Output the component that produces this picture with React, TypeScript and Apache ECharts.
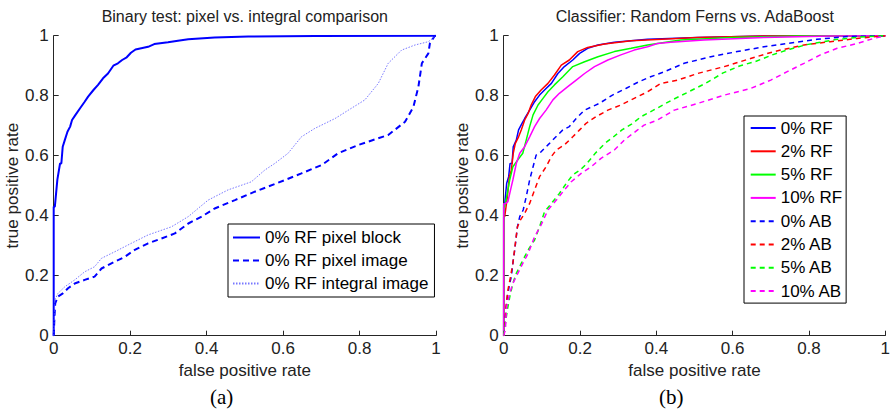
import React, { useEffect, useRef } from "react";
import * as echarts from "echarts";

const titles = ["Binary test: pixel vs. integral comparison", "Classifier: Random Ferns vs. AdaBoost"];
const captions = ["(a)", "(b)"];
const xName = "false positive rate";
const yName = "true positive rate";

// Left panel (a)
const pixelBlock = [[0,0],[0,0.43],[0.003,0.43],[0.0096,0.52],[0.0166,0.574],[0.02,0.574],[0.0236,0.63],[0.029,0.652],[0.036,0.68],[0.043,0.697],[0.048,0.719],[0.057,0.736],[0.069,0.758],[0.081,0.78],[0.09,0.797],[0.104,0.819],[0.116,0.836],[0.129,0.858],[0.142,0.874],[0.156,0.9],[0.168,0.908],[0.179,0.919],[0.191,0.928],[0.202,0.943],[0.214,0.954],[0.247,0.963],[0.263,0.972],[0.299,0.978],[0.325,0.983],[0.352,0.988],[0.421,0.994],[0.509,0.997],[0.683,0.999],[1,1]];
const pixelImage = [[0,0],[0.002,0.06],[0.004,0.108],[0.011,0.13],[0.024,0.141],[0.0375,0.158],[0.055,0.174],[0.081,0.186],[0.107,0.197],[0.125,0.224],[0.151,0.241],[0.186,0.263],[0.212,0.286],[0.247,0.308],[0.282,0.324],[0.317,0.341],[0.352,0.374],[0.387,0.397],[0.421,0.424],[0.474,0.452],[0.526,0.48],[0.561,0.497],[0.605,0.519],[0.648,0.541],[0.701,0.569],[0.744,0.608],[0.797,0.636],[0.875,0.669],[0.919,0.713],[0.941,0.763],[0.954,0.83],[0.963,0.908],[0.98,0.941],[0.984,0.974],[0.997,1],[1,1]];
const integralImage = [[0,0],[0.003,0.119],[0.011,0.141],[0.029,0.163],[0.055,0.186],[0.081,0.213],[0.107,0.23],[0.125,0.258],[0.16,0.28],[0.203,0.308],[0.247,0.336],[0.308,0.363],[0.352,0.397],[0.404,0.452],[0.456,0.486],[0.517,0.513],[0.552,0.552],[0.578,0.574],[0.613,0.608],[0.648,0.663],[0.683,0.691],[0.736,0.724],[0.771,0.752],[0.814,0.786],[0.849,0.841],[0.875,0.908],[0.91,0.952],[0.945,0.969],[0.98,0.98],[1,1]];
const leftNames = ["0% RF pixel block", "0% RF pixel image", "0% RF integral image"];

// Right panel (b)
const rf0 = [[0,0],[0,0.44],[0.0026,0.44],[0.0078,0.508],[0.013,0.53],[0.0166,0.574],[0.0218,0.574],[0.025,0.63],[0.033,0.652],[0.039,0.686],[0.048,0.708],[0.055,0.724],[0.068,0.752],[0.081,0.78],[0.094,0.802],[0.107,0.819],[0.125,0.841],[0.142,0.874],[0.159,0.897],[0.181,0.919],[0.199,0.941],[0.22,0.958],[0.247,0.969],[0.29,0.978],[0.377,0.988],[0.508,0.994],[0.682,0.999],[1,1]];
const rf2 = [[0,0],[0,0.397],[0.0026,0.397],[0.0096,0.463],[0.0148,0.53],[0.02,0.552],[0.025,0.608],[0.0305,0.641],[0.039,0.663],[0.046,0.686],[0.055,0.719],[0.064,0.741],[0.072,0.769],[0.083,0.797],[0.098,0.819],[0.116,0.841],[0.133,0.869],[0.151,0.902],[0.172,0.919],[0.194,0.947],[0.22,0.961],[0.264,0.972],[0.334,0.983],[0.508,0.994],[0.682,0.999],[1,1]];
const rf5 = [[0,0],[0,0.43],[0.0026,0.43],[0.0078,0.463],[0.0157,0.519],[0.024,0.563],[0.037,0.586],[0.05,0.608],[0.059,0.652],[0.068,0.697],[0.077,0.736],[0.09,0.769],[0.103,0.791],[0.116,0.813],[0.133,0.836],[0.155,0.863],[0.181,0.897],[0.212,0.913],[0.247,0.93],[0.29,0.947],[0.334,0.958],[0.377,0.969],[0.464,0.986],[0.595,0.994],[0.769,0.999],[1,1]];
const rf10 = [[0,0],[0,0.44],[0.0044,0.44],[0.011,0.447],[0.018,0.486],[0.024,0.519],[0.033,0.574],[0.042,0.608],[0.055,0.63],[0.068,0.663],[0.081,0.697],[0.094,0.724],[0.111,0.752],[0.129,0.786],[0.146,0.808],[0.168,0.83],[0.19,0.852],[0.212,0.874],[0.238,0.897],[0.273,0.919],[0.307,0.936],[0.342,0.952],[0.377,0.963],[0.403,0.974],[0.438,0.978],[0.525,0.986],[0.682,0.994],[0.856,0.999],[1,1]];
const ab0 = [[0,0],[0.0026,0.03],[0.0044,0.063],[0.0096,0.13],[0.0157,0.174],[0.02,0.197],[0.024,0.241],[0.029,0.286],[0.033,0.33],[0.036,0.363],[0.042,0.397],[0.051,0.419],[0.059,0.463],[0.068,0.519],[0.077,0.563],[0.085,0.602],[0.098,0.613],[0.116,0.636],[0.133,0.658],[0.155,0.686],[0.172,0.697],[0.19,0.724],[0.212,0.752],[0.25,0.774],[0.285,0.802],[0.32,0.824],[0.355,0.847],[0.385,0.863],[0.421,0.88],[0.473,0.908],[0.543,0.93],[0.612,0.947],[0.682,0.963],[0.743,0.974],[0.821,0.988],[0.9,0.997],[1,1]];
const ab2 = [[0,0],[0.0026,0.019],[0.006,0.097],[0.011,0.152],[0.018,0.197],[0.024,0.241],[0.0305,0.308],[0.036,0.363],[0.044,0.386],[0.055,0.408],[0.068,0.441],[0.081,0.486],[0.094,0.53],[0.111,0.563],[0.125,0.597],[0.138,0.619],[0.159,0.636],[0.181,0.663],[0.199,0.686],[0.216,0.708],[0.242,0.73],[0.273,0.752],[0.307,0.769],[0.342,0.791],[0.377,0.813],[0.412,0.841],[0.456,0.852],[0.508,0.874],[0.578,0.897],[0.647,0.924],[0.708,0.947],[0.787,0.969],[0.856,0.98],[0.926,0.991],[1,1]];
const ab5 = [[0,0],[0.0044,0.041],[0.0096,0.086],[0.016,0.13],[0.024,0.174],[0.033,0.208],[0.046,0.241],[0.064,0.286],[0.081,0.319],[0.094,0.363],[0.107,0.413],[0.125,0.441],[0.146,0.474],[0.164,0.508],[0.181,0.536],[0.2,0.552],[0.218,0.574],[0.24,0.608],[0.265,0.641],[0.285,0.66],[0.31,0.686],[0.335,0.705],[0.36,0.73],[0.39,0.75],[0.44,0.785],[0.48,0.81],[0.53,0.842],[0.575,0.876],[0.62,0.9],[0.66,0.914],[0.706,0.937],[0.75,0.955],[0.793,0.97],[0.87,0.987],[0.93,0.995],[1,1]];
const ab10 = [[0,0],[0.0044,0.02],[0.0078,0.097],[0.0157,0.141],[0.024,0.174],[0.037,0.208],[0.05,0.241],[0.064,0.274],[0.081,0.33],[0.098,0.369],[0.116,0.419],[0.138,0.452],[0.159,0.486],[0.177,0.513],[0.203,0.541],[0.229,0.563],[0.255,0.591],[0.29,0.619],[0.316,0.652],[0.351,0.686],[0.368,0.702],[0.403,0.719],[0.447,0.752],[0.508,0.774],[0.578,0.802],[0.647,0.824],[0.7,0.852],[0.743,0.88],[0.787,0.908],[0.83,0.936],[0.874,0.958],[0.926,0.974],[0.97,0.991],[1,1]];
const rightNames = ["0% RF", "2% RF", "5% RF", "10% RF", "0% AB", "2% AB", "5% AB", "10% AB"];
const rightColors = ["#0000ff", "#ff0000", "#00ff00", "#ff00ff", "#0000ff", "#ff0000", "#00ff00", "#ff00ff"];
const rightData = [rf0, rf2, rf5, rf10, ab0, ab2, ab5, ab10];

const FONT = "'Liberation Sans', Arial, Helvetica, sans-serif";
const AXIS_COLOR = "#262626";

function axisBase(gridIndex: number, name: string, isX: boolean) {
  return {
    type: "value",
    gridIndex,
    min: 0,
    max: 1,
    interval: 0.2,
    name,
    nameLocation: "middle",
    nameGap: isX ? 16 : 28,
    nameTextStyle: { fontFamily: FONT, fontSize: 17, color: "#222" },
    axisLine: { show: true, lineStyle: { color: AXIS_COLOR, width: 1 } },
    axisTick: { show: true, inside: true, length: 5, lineStyle: { color: AXIS_COLOR } },
    axisLabel: {
      fontFamily: FONT,
      fontSize: 17,
      color: "#222",
      margin: isX ? 4 : 5,
      formatter: (v: number) => String(+v.toFixed(1)),
    },
    splitLine: { show: false },
  };
}

export default function App() {
  const ref = useRef<HTMLDivElement>(null);
  useEffect(() => {
    if (!ref.current) return;
    const chart = echarts.init(ref.current, undefined, { renderer: "svg" });
    const gL = { left: 53.7, top: 35.7, width: 382.3, height: 300 };
    const gR = { left: 503.7, top: 35.7, width: 382.3, height: 300 };
    const leftSeries = [
      { name: leftNames[0], data: pixelBlock, lineStyle: { color: "#0000ff", width: 2, type: "solid" } },
      { name: leftNames[1], data: pixelImage, lineStyle: { color: "#0000ff", width: 2, type: [6, 4] } },
      { name: leftNames[2], data: integralImage, lineStyle: { color: "#5555ff", width: 1, type: [1.5, 1.5], opacity: 0.8 } },
    ].map((s) => ({
      type: "line",
      xAxisIndex: 0,
      yAxisIndex: 0,
      symbol: "none",
      showSymbol: false,
      itemStyle: { color: s.lineStyle.color },
      ...s,
    }));
    const rightSeries = rightData.map((d, i) => ({
      type: "line",
      name: rightNames[i],
      xAxisIndex: 1,
      yAxisIndex: 1,
      symbol: "none",
      showSymbol: false,
      data: d,
      itemStyle: { color: rightColors[i] },
      lineStyle: { color: rightColors[i], width: 1.5, type: i < 4 ? "solid" : [5, 4] },
    }));
    const legendCommon = {
      orient: "vertical",
      itemHeight: 17,
      backgroundColor: "#fff",
      borderColor: "#000",
      borderWidth: 1,
      borderRadius: 0,
      selectedMode: false,
      itemStyle: { opacity: 0 },
      textStyle: { fontFamily: FONT, fontSize: 17, color: "#000", lineHeight: 17 },
    };
    chart.setOption({
      animation: false,
      textStyle: { fontFamily: FONT },
      title: [
        { text: titles[0], left: 244.8, top: 8, textAlign: "center", padding: 0, textStyle: { fontFamily: FONT, fontSize: 16, fontWeight: "normal", color: "#222" } },
        { text: titles[1], left: 694.8, top: 8, textAlign: "center", padding: 0, textStyle: { fontFamily: FONT, fontSize: 16, fontWeight: "normal", color: "#222" } },
      ],
      grid: [gL, gR],
      xAxis: [axisBase(0, xName, true), axisBase(1, xName, true)],
      yAxis: [axisBase(0, yName, false), axisBase(1, yName, false)],
      legend: [
        { ...legendCommon, data: leftNames, left: 228, top: 224, itemWidth: 27, itemGap: 6, padding: [5, 6, 5, 4] },
        { ...legendCommon, data: rightNames, left: 744, top: 116, itemWidth: 25, itemGap: 6.3, padding: [3.5, 4, 3.5, 5.7] },
      ],
      graphic: [
        { type: "text", left: 210, top: 386, style: { text: captions[0], font: "21px 'Liberation Serif', 'DejaVu Serif', serif", fill: "#000" } },
        { type: "text", left: 659, top: 386, style: { text: captions[1], font: "21px 'Liberation Serif', 'DejaVu Serif', serif", fill: "#000" } },
      ],
      series: [...leftSeries, ...rightSeries],
    });
    return () => chart.dispose();
  }, []);
  return <div ref={ref} style={{ position: "fixed", left: 0, top: 0, width: 893, height: 413, background: "#fff" }} />;
}
